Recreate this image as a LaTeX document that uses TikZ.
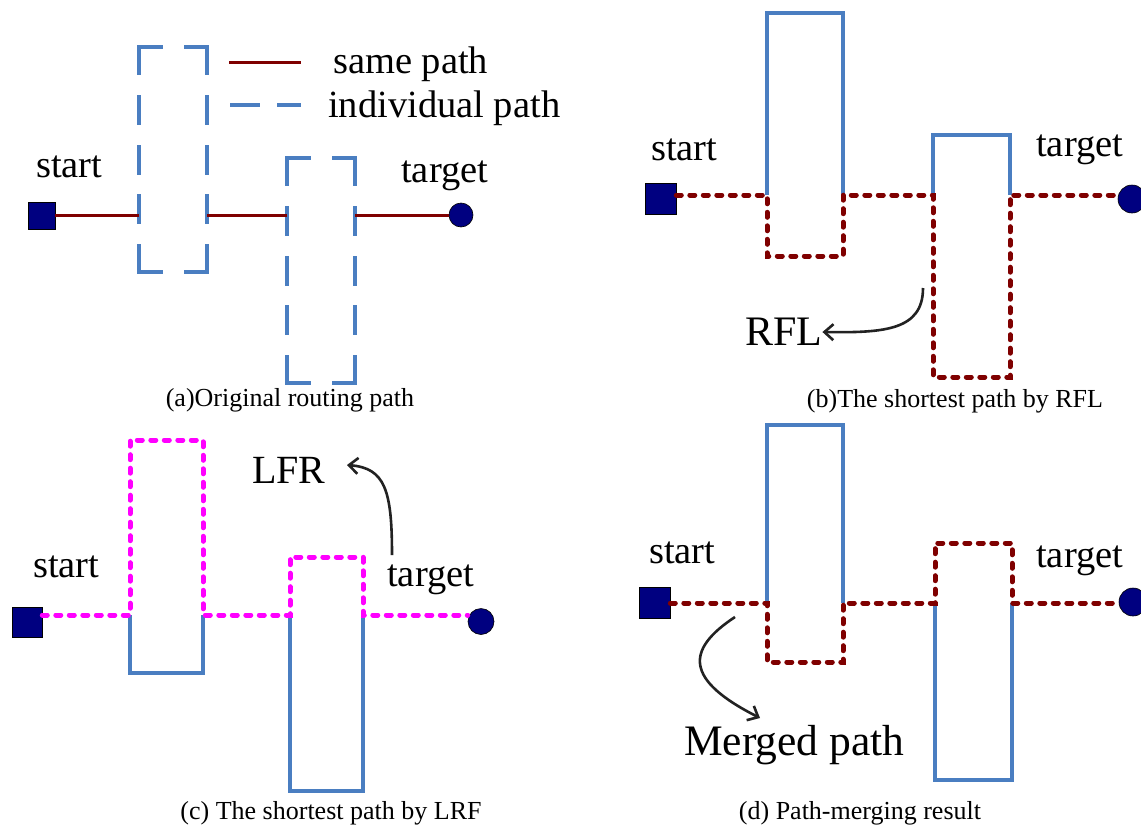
\documentclass[tikz,border=0pt]{standalone}
\usepackage{fontspec}
\setmainfont{Liberation Serif}
\usetikzlibrary{arrows.meta}

\definecolor{pathblue}{HTML}{4A7EC1}
\definecolor{pathred}{HTML}{7F0000}
\definecolor{pathpink}{HTML}{FF00FF}
\definecolor{endnavy}{HTML}{000080}
\definecolor{notegray}{HTML}{222222}

\tikzset{
  samepath/.style={pathred, line width=3pt},
  dashv/.style={pathblue, line width=4pt, line cap=rect, dash pattern=on 26pt off 23.75pt},
  dashh/.style={pathblue, line width=4pt, line cap=rect, dash pattern=on 21.5pt off 25pt},
  bluepath/.style={pathblue, line width=4pt},
  reddots/.style={pathred, line width=5pt, line cap=round, dash pattern=on 5pt off 8.5pt},
  pinkdots/.style={pathpink, line width=5pt, line cap=round, dash pattern=on 5pt off 8.5pt},
  startbox/.style={draw=black, line width=0.6pt, fill=endnavy, inner sep=0pt,
    minimum width=#1, minimum height=#1},
  targetdot/.style={circle, draw=black, line width=0.6pt, fill=endnavy, inner sep=0pt,
    minimum size=#1},
  lbl/.style={anchor=base west, inner sep=0pt, font=\fontsize{38.5}{46}\selectfont},
  biglbl/.style={anchor=base west, inner sep=0pt, font=\fontsize{42}{50}\selectfont},
  caption/.style={anchor=base, inner sep=0pt, font=\fontsize{26}{30}\selectfont},
  note/.style={notegray, line width=2.6pt, -{Straight Barb[length=9pt, width=16pt]}},
}

\begin{document}
\begin{tikzpicture}[x=1pt, y=-1pt]
\useasboundingbox (0,0) rectangle (1141,825);

% ---------------- (a) original routing path ----------------
% dashed boxes: individual path
\foreach \xl/\xr/\yt/\yb in {139/207/47/272, 287/355/158/383}{
  \draw[dashv] (\xl,\yt) -- (\xl,\yb);
  \draw[dashv] (\xr,\yt) -- (\xr,\yb);
  \draw[dashh] (\xl,\yt) -- (\xr,\yt);
  \draw[dashh] (\xl,\yb) -- (\xr,\yb);
}
\node[startbox=27pt] (sa) at (41.5,216) {};
\node[targetdot=24pt] (ta) at (461,215) {};
\draw[samepath] (sa.east |- 0,215) -- (139,215);
\draw[samepath] (207,215) -- (287,215);
\draw[samepath] (355,215) -- (ta.west);
\node[lbl] (starta) at (36,177) {start};
\node[lbl] (targeta) at (401,182) {target};
% legend
\coordinate (lgs1) at (229,62);
\coordinate (lgs2) at (301,62);
\coordinate (lgi1) at (230,105);
\coordinate (lgi2) at (301,105);
\draw[samepath] (lgs1) -- (lgs2);
\draw[pathblue, line width=4pt, dash pattern=on 30pt off 17pt] (lgi1) -- (lgi2);
\node[lbl] (lgsame) at (333,73) {same path};
\node[lbl] (lgindiv) at (328,117) {individual path};
\node[caption] (capa) at (290,406) {(a)Original routing path};

% ---------------- (b) shortest path by RFL ----------------
\draw[bluepath] (767,195) -- (767,13) -- (843,13) -- (843,195);
\draw[bluepath] (933,195) -- (933,135) -- (1010,135) -- (1010,195);
\node[startbox=31pt] (sb) at (660.5,199) {};
\node[targetdot=28pt] (tb) at (1132,199) {};
\draw[reddots] (sb.east |- 0,195) -- (767,195) -- (767,256) -- (843,256) -- (843,195)
  -- (933,195) -- (933,377) -- (1010,377) -- (1010,195) -- (tb.west |- 0,195);
\node[lbl] (startb) at (651,160) {start};
\node[lbl] (targetb) at (1036,156) {target};
\node[biglbl] (rfl) at (745,345) {RFL};
\coordinate (rflfrom) at (923,288);
\draw[note] (rflfrom) .. controls (923,330) and (885,333) .. (rfl.east |- 0,332);
\node[caption] (capb) at (955,407) {(b)The shortest path by RFL};

% ---------------- (c) shortest path by LRF ----------------
\draw[bluepath] (130,615) -- (130,673) -- (203,673) -- (203,615);
\draw[bluepath] (290,615) -- (290,791) -- (363,791) -- (363,615);
\node[startbox=30pt] (sc) at (27,622) {};
\node[targetdot=26pt] (tc) at (481,621.5) {};
\draw[pinkdots] (sc.east |- 0,615) -- (130,615) -- (130,440) -- (203,440) -- (203,615)
  -- (290,615) -- (290,557) -- (363,557) -- (363,615) -- (tc.west |- 0,615);
\node[lbl] (startc) at (33,577) {start};
\node[lbl] (targetc) at (387,586) {target};
\node[biglbl, font=\fontsize{40}{48}\selectfont] (lfr) at (252,483) {LFR};
\coordinate (lfrfrom) at (392,555);
\draw[note] (lfrfrom) .. controls (392,490) and (385,468) .. (347,465);
\node[caption] (capc) at (331,819) {(c) The shortest path by LRF};

% ---------------- (d) path-merging result ----------------
\draw[bluepath] (767,603) -- (767,425) -- (843,425) -- (843,603);
\draw[bluepath] (935,603) -- (935,780) -- (1012,780) -- (1012,603);
\node[startbox=31pt] (sd) at (654.5,602.5) {};
\node[targetdot=28pt] (td) at (1133,602) {};
\draw[reddots] (sd.east |- 0,603) -- (767,603) -- (767,662) -- (843,662) -- (843,603)
  -- (935,603) -- (935,543) -- (1012,543) -- (1012,603) -- (td.west |- 0,603);
\node[lbl] (startd) at (649,563) {start};
\node[lbl] (targetd) at (1036,567) {target};
\node[biglbl, font=\fontsize{43.5}{52}\selectfont] (merged) at (684,755) {Merged path};
\coordinate (mergedfrom) at (735,617);
\draw[note] (mergedfrom) .. controls (685,650) and (685,680) .. (760,718);
\node[caption] (capd) at (860,819) {(d) Path-merging result};
\end{tikzpicture}
\end{document}
